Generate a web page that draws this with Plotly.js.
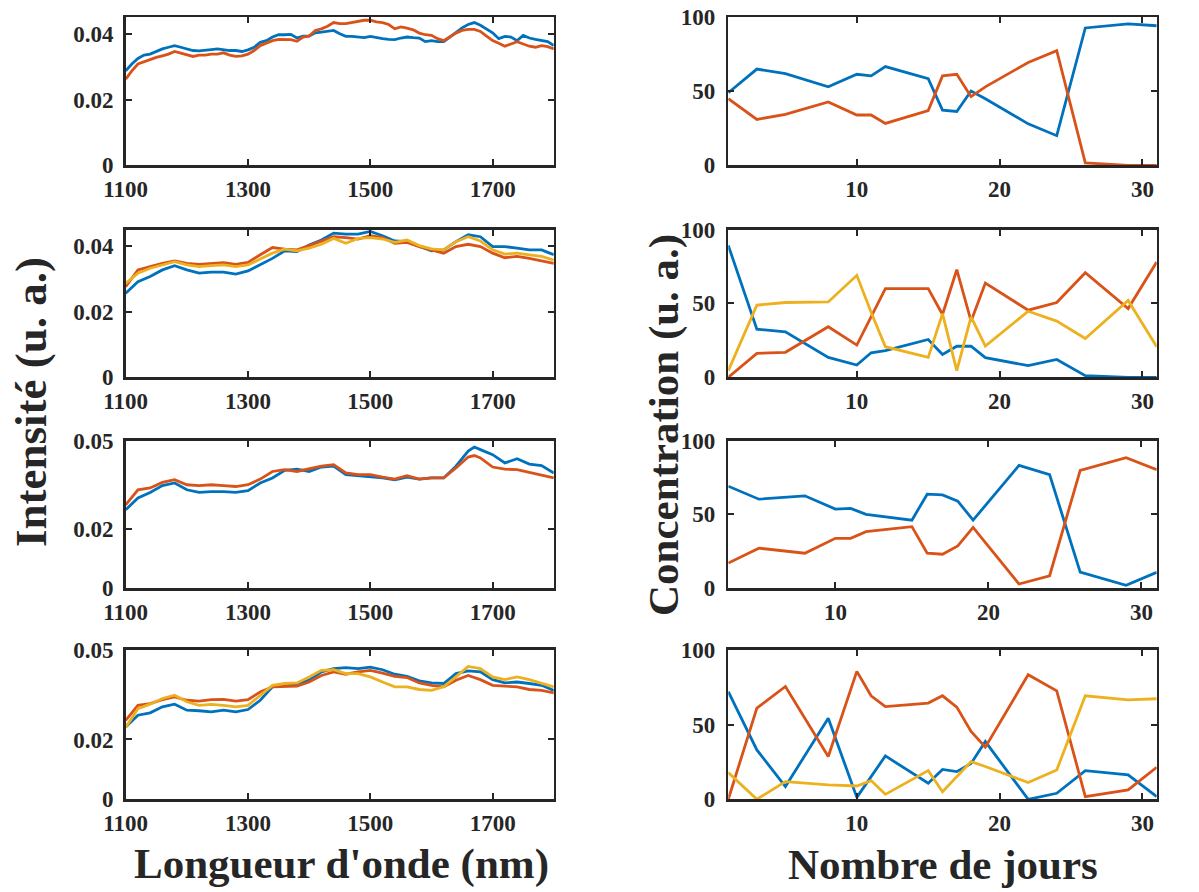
<!DOCTYPE html>
<html>
<head>
<meta charset="utf-8">
<script src="https://cdn.plot.ly/plotly-3.0.1.min.js"></script>
<style>html,body{margin:0;padding:0;background:#fff;}#chart{width:1199px;height:892px;}</style>
</head>
<body>
<div id="chart"></div>
<script>
// ---------- DATA ----------
const wl10 = [1100,1110,1120,1130,1140,1150,1160,1170,1180,1190,1200,1210,1220,1230,1240,1250,1260,1270,1280,1290,1300,1310,1320,1330,1340,1350,1360,1370,1380,1390,1400,1410,1420,1430,1440,1450,1460,1470,1480,1490,1500,1510,1520,1530,1540,1550,1560,1570,1580,1590,1600,1610,1620,1630,1640,1650,1660,1670,1680,1690,1700,1710,1720,1730,1740,1750,1760,1770,1780,1790,1800];
const wl20 = [1100,1120,1140,1160,1180,1200,1220,1240,1260,1280,1300,1320,1340,1360,1380,1400,1420,1440,1460,1480,1500,1520,1540,1560,1580,1600,1620,1640,1660,1680,1700,1720,1740,1760,1780,1800];
const wlRow3 = [1100,1120,1140,1160,1180,1200,1220,1240,1260,1280,1300,1320,1340,1360,1380,1400,1420,1440,1460,1480,1500,1520,1540,1560,1580,1600,1620,1640,1660,1670,1680,1700,1720,1740,1760,1780,1800];

const spec1Blue = [0.0287,0.0308,0.0325,0.0335,0.0338,0.0346,0.0354,0.0359,0.0364,0.0359,0.0354,0.0349,0.0348,0.0349,0.0352,0.0354,0.0351,0.0349,0.0349,0.0346,0.0351,0.0359,0.0374,0.0379,0.0390,0.0397,0.0397,0.0398,0.0387,0.0393,0.0393,0.0403,0.0405,0.0408,0.0410,0.0400,0.0392,0.0392,0.0390,0.0388,0.0392,0.0388,0.0385,0.0383,0.0382,0.0387,0.0390,0.0388,0.0387,0.0376,0.0379,0.0376,0.0376,0.0390,0.0405,0.0418,0.0428,0.0434,0.0426,0.0415,0.0403,0.0385,0.0392,0.0390,0.0379,0.0395,0.0387,0.0383,0.0379,0.0376,0.0364];
const spec1Orange = [0.0262,0.0287,0.0308,0.0315,0.0321,0.0328,0.0333,0.0338,0.0346,0.0341,0.0335,0.0331,0.0335,0.0335,0.0338,0.0338,0.0342,0.0335,0.0331,0.0333,0.0338,0.0349,0.0364,0.0372,0.0379,0.0383,0.0383,0.0382,0.0377,0.0390,0.0393,0.0410,0.0415,0.0423,0.0434,0.0431,0.0431,0.0434,0.0436,0.0441,0.0441,0.0436,0.0434,0.0428,0.0415,0.0421,0.0417,0.0412,0.0402,0.0397,0.0395,0.0385,0.0379,0.0390,0.0402,0.0410,0.0413,0.0413,0.0407,0.0393,0.0379,0.0371,0.0362,0.0369,0.0376,0.0369,0.0362,0.0359,0.0364,0.0361,0.0354];

const spec2Blue = [0.0256,0.0291,0.0307,0.0327,0.0340,0.0327,0.0317,0.0320,0.0320,0.0314,0.0324,0.0342,0.0362,0.0385,0.0383,0.0403,0.0418,0.0439,0.0436,0.0436,0.0444,0.0431,0.0415,0.0413,0.0398,0.0385,0.0388,0.0413,0.0434,0.0428,0.0398,0.0398,0.0393,0.0388,0.0388,0.0373];
const spec2Orange = [0.0276,0.0327,0.0337,0.0347,0.0354,0.0347,0.0344,0.0347,0.0349,0.0344,0.0350,0.0373,0.0395,0.0390,0.0388,0.0401,0.0415,0.0428,0.0425,0.0421,0.0431,0.0425,0.0408,0.0411,0.0398,0.0388,0.0378,0.0398,0.0405,0.0398,0.0378,0.0364,0.0368,0.0362,0.0354,0.0347];
const spec2Yellow = [0.0286,0.0317,0.0332,0.0342,0.0352,0.0342,0.0337,0.0340,0.0342,0.0337,0.0342,0.0360,0.0378,0.0390,0.0385,0.0393,0.0405,0.0423,0.0408,0.0423,0.0425,0.0421,0.0411,0.0418,0.0401,0.0391,0.0388,0.0413,0.0428,0.0415,0.0388,0.0375,0.0378,0.0373,0.0368,0.0357];

const spec3Blue = [0.0265,0.0305,0.0324,0.0347,0.0356,0.0333,0.0324,0.0327,0.0327,0.0324,0.0330,0.0356,0.0373,0.0399,0.0403,0.0395,0.0410,0.0413,0.0384,0.0381,0.0378,0.0373,0.0367,0.0376,0.0369,0.0373,0.0373,0.0413,0.0464,0.0478,0.0469,0.0452,0.0424,0.0438,0.0420,0.0415,0.0390];
const spec3Orange = [0.0282,0.0333,0.0339,0.0358,0.0367,0.0350,0.0347,0.0350,0.0347,0.0344,0.0350,0.0369,0.0395,0.0401,0.0395,0.0403,0.0413,0.0418,0.0390,0.0384,0.0384,0.0376,0.0369,0.0381,0.0369,0.0373,0.0373,0.0407,0.0444,0.0449,0.0441,0.0410,0.0403,0.0401,0.0392,0.0384,0.0373];

const spec4Blue = [0.0242,0.0281,0.0289,0.0309,0.0318,0.0298,0.0296,0.0292,0.0298,0.0292,0.0300,0.0331,0.0376,0.0381,0.0387,0.0398,0.0426,0.0437,0.0440,0.0437,0.0442,0.0433,0.0418,0.0411,0.0396,0.0389,0.0387,0.0420,0.0429,0.0426,0.0400,0.0389,0.0392,0.0387,0.0381,0.0364];
const spec4Orange = [0.0264,0.0314,0.0320,0.0333,0.0342,0.0331,0.0328,0.0333,0.0334,0.0328,0.0333,0.0359,0.0376,0.0378,0.0378,0.0392,0.0414,0.0426,0.0418,0.0426,0.0431,0.0422,0.0411,0.0407,0.0389,0.0381,0.0376,0.0398,0.0414,0.0400,0.0381,0.0378,0.0376,0.0367,0.0364,0.0356];
const spec4Yellow = [0.0240,0.0303,0.0318,0.0337,0.0348,0.0326,0.0314,0.0317,0.0314,0.0309,0.0314,0.0348,0.0381,0.0387,0.0389,0.0409,0.0431,0.0433,0.0420,0.0420,0.0409,0.0392,0.0376,0.0376,0.0367,0.0364,0.0376,0.0409,0.0444,0.0437,0.0409,0.0400,0.0409,0.0400,0.0387,0.0376];

const days = [1,3,5,8,10,11,12,15,16,17,18,19,22,24,26,29,31];
const daysRow3 = [3,5,8,10,11,12,15,16,17,18,19,22,24,26,29,31];

const conc1Blue   = [49,65,62,53,61.5,60.4,66.7,58.6,37.3,36.4,50.2,45,28,20,92.8,95.5,94.3];
const conc1Orange = [45,31,34.4,42.8,34,34,28.3,37,60.4,61.5,46.4,53,69.5,77.4,1.6,0,0];

const conc2Blue   = [89.2,32.6,30.8,13.5,8.3,16.6,18,25.6,15.5,21,21,13.3,7.9,12.1,1.1,0,0];
const conc2Orange = [0,16.2,16.9,34.2,21.8,40.9,60,60,42.5,72.8,38,63.8,45.4,50.6,70.8,46.5,78];
const conc2Yellow = [4.5,48.8,50.6,51,69,44,20.7,13.5,43.1,4.5,40.9,21.1,44.7,38,26.3,52,20.7];

const conc3Blue   = [69,60.2,62.5,53.5,54,49.9,46,63.6,63.1,58.9,46,83.1,76.9,10.8,1.8,10.6];
const conc3Orange = [16.9,27,23.6,33.7,33.7,38.2,41.6,23.6,22.9,28.5,41.1,2.7,8.3,79.8,88.3,80.2];

const conc4Blue   = [72,33,8.5,54.2,1.3,15,29,10.7,20,18.5,24,38.6,0,4,19.2,16.3,1.8];
const conc4Orange = [0,61,75.4,28.6,85.5,69.2,62,64.3,69.2,61.6,45.3,34.8,83.3,72.5,1.8,6.3,21.4];
const conc4Yellow = [17.9,0,11.8,9.6,8.9,12.5,3.3,19.2,5.1,15.2,25.2,21.9,11.2,19.6,69.2,66.5,67.2];

const specTicks = [1100,1300,1500,1700];
const yTicksA = [0,0.02,0.04];
const yTickTextA = ['0','0.02','0.04'];
const yTicksB = [0,0.02,0.05];
const yTickTextB = ['0','0.02','0.05'];
const concTicks = [0,50,100];

const xTitleLeft = "Longueur d'onde (nm)";
const xTitleRight = "Nombre de jours";
const yTitleLeft = "Intensité (u. a.)";
const yTitleRight = "Concentration (u. a.)";

// ---------- STYLE ----------
const W = 1199, H = 892;
const C_BLUE = '#0072BD', C_ORANGE = '#D95319', C_YELLOW = '#EDB120';
const AX = '#262626';
const FONT = 'Liberation Serif, Times New Roman, serif';
const LW = 2.8;

const leftX = [125.7/W, 553.8/W];
const rightX = [728.3/W, 1156.7/W];
const rowsPx = [[17.3,165.3],[229.5,377.3],[440.5,588],[649.7,799.3]];
const rowDom = rowsPx.map(r => [(H - r[1]) / H, (H - r[0]) / H]);

function baseAxis(extra) {
  return Object.assign({
    showline: true, linecolor: AX, linewidth: 2.5, mirror: 'ticks',
    ticks: 'inside', ticklen: 6, tickwidth: 2, tickcolor: AX,
    showgrid: false, zeroline: false, fixedrange: true,
    tickfont: {family: FONT, size: 23, color: AX, weight: 'bold'}
  }, extra);
}

const traces = [];
const layout = {
  width: W, height: H, margin: {l: 0, r: 0, t: 0, b: 0},
  paper_bgcolor: '#fff', plot_bgcolor: '#fff', showlegend: false,
  annotations: []
};

function line(x, y, color, xa, ya) {
  traces.push({x: x, y: y, type: 'scatter', mode: 'lines', xaxis: xa, yaxis: ya,
    line: {color: color, width: LW}, hoverinfo: 'skip'});
}

const specSets = [
  [[wl10, spec1Blue, C_BLUE], [wl10, spec1Orange, C_ORANGE]],
  [[wl20, spec2Blue, C_BLUE], [wl20, spec2Orange, C_ORANGE], [wl20, spec2Yellow, C_YELLOW]],
  [[wlRow3, spec3Blue, C_BLUE], [wlRow3, spec3Orange, C_ORANGE]],
  [[wl20, spec4Blue, C_BLUE], [wl20, spec4Orange, C_ORANGE], [wl20, spec4Yellow, C_YELLOW]]
];
const concSets = [
  [[days, conc1Blue, C_BLUE], [days, conc1Orange, C_ORANGE]],
  [[days, conc2Blue, C_BLUE], [days, conc2Orange, C_ORANGE], [days, conc2Yellow, C_YELLOW]],
  [[daysRow3, conc3Blue, C_BLUE], [daysRow3, conc3Orange, C_ORANGE]],
  [[days, conc4Blue, C_BLUE], [days, conc4Orange, C_ORANGE], [days, conc4Yellow, C_YELLOW]]
];
const specYMax = [0.045, 0.045, 0.05, 0.05];
const concXMin = [1, 1, 3, 1];

for (let r = 0; r < 4; r++) {
  const li = 2 * r + 1, ri = 2 * r + 2;
  const lx = 'x' + (li === 1 ? '' : li), ly = 'y' + (li === 1 ? '' : li);
  const rx = 'x' + ri, ry = 'y' + ri;
  specSets[r].forEach(s => line(s[0], s[1], s[2], lx, ly));
  concSets[r].forEach(s => line(s[0], s[1], s[2], rx, ry));
  const useB = specYMax[r] === 0.05;
  layout['xaxis' + (li === 1 ? '' : li)] = baseAxis({domain: leftX, anchor: ly, range: [1100, 1800],
    tickvals: specTicks, ticklabelstandoff: 2});
  layout['yaxis' + (li === 1 ? '' : li)] = baseAxis({domain: rowDom[r], anchor: lx, range: [0, specYMax[r]],
    tickvals: useB ? yTicksB : yTicksA, ticktext: useB ? yTickTextB : yTickTextA, ticklabelstandoff: 5});
  layout['xaxis' + ri] = baseAxis({domain: rightX, anchor: ry, range: [concXMin[r], 31],
    tick0: 0, dtick: 10, ticklabelstandoff: 2});
  layout['yaxis' + ri] = baseAxis({domain: rowDom[r], anchor: rx, range: [0, 100],
    tickvals: concTicks, ticklabelstandoff: 6});
}

const titleFont = {family: FONT, size: 43, color: AX, weight: 'bold'};
layout.annotations.push(
  {text: xTitleLeft, xref: 'paper', yref: 'paper', x: 341 / W, y: (H - 864) / H,
   xanchor: 'center', yanchor: 'middle', showarrow: false, font: titleFont},
  {text: xTitleRight, xref: 'paper', yref: 'paper', x: 943 / W, y: (H - 864) / H,
   xanchor: 'center', yanchor: 'middle', showarrow: false, font: titleFont},
  {text: yTitleLeft, xref: 'paper', yref: 'paper', x: 31 / W, y: (H - 402) / H, textangle: -90,
   xanchor: 'center', yanchor: 'middle', showarrow: false, font: {family: FONT, size: 45, color: AX, weight: 'bold'}},
  {text: yTitleRight, xref: 'paper', yref: 'paper', x: 664 / W, y: (H - 425) / H, textangle: -90,
   xanchor: 'center', yanchor: 'middle', showarrow: false, font: titleFont}
);

Plotly.newPlot('chart', traces, layout, {displayModeBar: false, staticPlot: true});
</script>
</body>
</html>
